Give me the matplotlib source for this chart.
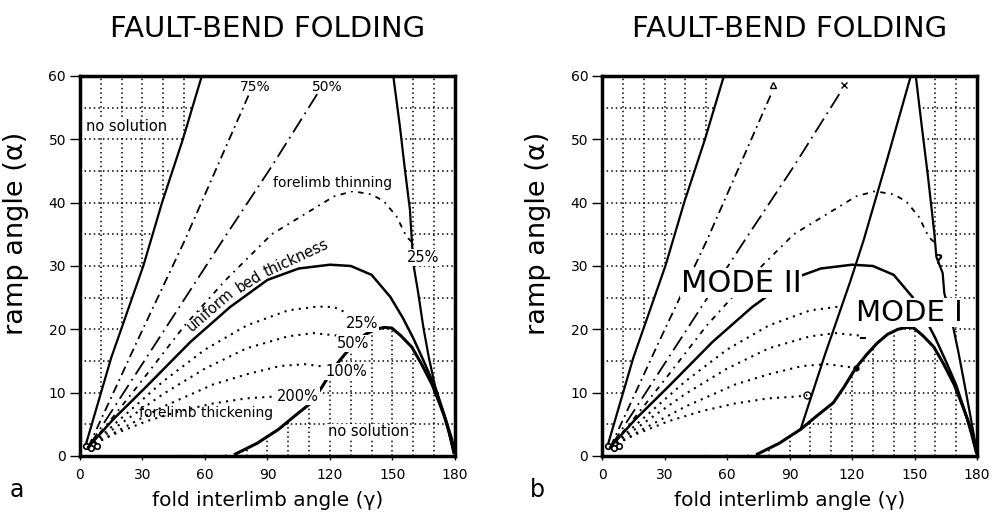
import numpy as np
import matplotlib
matplotlib.use('Agg')
import matplotlib.pyplot as plt
from matplotlib.patches import Polygon

# digitised curves: fold interlimb angle (x) vs ramp angle (y)
# left "no solution" limit
limit_x = [3, 15, 30.4, 39.4, 49.4, 58.5]
limit_y = [2, 15.5, 30, 40, 50, 60]

# forelimb thinning 75% and 50%
thin75_x = [4, 27, 50.4, 81]
thin75_y = [1.4, 17.8, 34.1, 57]
thin50_x = [4, 36, 68.6, 92, 114]
thin50_y = [1.4, 17.6, 34.1, 45.7, 57.2]

# forelimb thinning (peak ~42)
thin25_x = [4, 16, 30, 50, 70, 92, 112, 122, 131, 140, 146, 152, 156.8, 159.3]
thin25_y = [1.4, 6.2, 12, 20.5, 27.8, 35, 39, 41, 41.8, 41.3, 40.2, 37.8, 34.6, 33.8]

# uniform bed thickness
uniform_x = [4, 16, 32, 53, 72, 90, 105, 120, 130, 140, 149, 155, 160, 165, 170, 174, 177, 179.5]
uniform_y = [1.4, 5.8, 11, 18, 23.5, 27.8, 29.6, 30.2, 30, 28.6, 25.1, 21.8, 18.6, 15, 11.2, 7.2, 3.8, 0.6]

# forelimb thickening curves
thick25_x = [4, 20, 40, 60, 80, 100, 114, 122, 128]
thick25_y = [1.4, 6, 11.8, 16.8, 20.6, 23, 23.6, 23.5, 22.6]
thick50_x = [4, 20, 40, 60, 80, 100, 112, 124]
thick50_y = [1.4, 5.2, 9.8, 13.8, 17, 18.9, 19.4, 19]
thick100_x = [4, 20, 40, 64, 80, 96, 108, 121.8]
thick100_y = [1.4, 4.3, 7.8, 11.3, 12.9, 14.2, 14.5, 13.9]
thick200_x = [4, 16, 32, 48, 64, 80, 94, 98.5]
thick200_y = [1.4, 3.4, 5.5, 7.1, 8.3, 9.1, 9.4, 9.6]

# lower limit (mode I)
hump_x = [74.6, 85, 95.3, 103, 111, 116, 121.8, 127, 132, 137, 142, 146, 149.7, 154, 159.3, 164, 169, 172.5, 175.7, 178.3, 180]
hump_y = [0.3, 2, 4.2, 6.3, 8.4, 10.8, 13.9, 16, 17.8, 19.2, 20, 20.3, 20.2, 19, 17.2, 14.5, 11.3, 8.4, 5.6, 2.8, 0.5]

# right steep limits
steep_a_x = [150.4, 153.6, 156, 158.4, 159.2, 160, 162.4, 164.8, 167.5, 170.5, 175, 177.3, 179.3]
steep_a_y = [60, 52, 45.2, 38.9, 34.6, 30.4, 25.7, 20.4, 15.5, 11, 6.5, 3.5, 0.5]
steep_b_x = [150.6, 153.5, 156.5, 159.5, 160.5, 163.5, 164.3, 166, 167.5, 171, 173.9, 177, 180]
steep_b_y = [60, 52, 44, 35.2, 31.4, 28.9, 25.7, 23.5, 22, 16.5, 11.5, 6, 0.5]

# mode I / mode II boundary (panel b)
mid_x = [95.3, 107, 119.4, 125.6, 137, 148.2]
mid_y = [4.2, 16, 27.8, 34.1, 47, 60]

xticks = [0, 30, 60, 90, 120, 150, 180]
yticks = [0, 10, 20, 30, 40, 50, 60]

plt.rcParams['font.family'] = 'DejaVu Sans'

fig = plt.figure(figsize=(9.92, 5.2), dpi=100)
ax_a = fig.add_axes([0.0806, 0.1231, 0.378, 0.7308])
ax_b = fig.add_axes([0.6069, 0.1231, 0.378, 0.7308])


def base_axes(ax, steep_x, steep_y):
    ax.set_xlim(0, 180)
    ax.set_ylim(0, 60)
    # dotted grid, later covered where a solution exists
    ax.vlines(np.arange(10, 180, 10), 0, 60, colors='k', linestyles=(0, (1, 2)), lw=1.1, zorder=0.5)
    ax.hlines(np.arange(5, 60, 5), 0, 180, colors='k', linestyles=(0, (1, 2)), lw=1.1, zorder=0.5)
    pts = [(0, 0)] + list(zip(limit_x, limit_y)) + list(zip(steep_x, steep_y)) \
        + list(zip(hump_x[::-1], hump_y[::-1]))
    ax.add_patch(Polygon(pts, closed=True, facecolor='white', edgecolor='none', zorder=1))

    ax.plot(limit_x, limit_y, color='k', lw=1.6, zorder=3)
    ax.plot(thin75_x, thin75_y, color='k', lw=1.3, ls=(0, (5, 2.5, 1, 2.5)), zorder=3)
    ax.plot(thin50_x, thin50_y, color='k', lw=1.3, ls=(0, (9, 3, 1, 3)), zorder=3)
    ax.plot(thin25_x, thin25_y, color='k', lw=1.3, ls=(0, (3, 3, 1, 3)), zorder=3)
    ax.plot(uniform_x, uniform_y, color='k', lw=1.8, zorder=3)
    ax.plot(hump_x, hump_y, color='k', lw=2.2, zorder=3)
    ax.plot(steep_x, steep_y, color='k', lw=1.6, zorder=3)
    # scribble where the curves meet
    ax.plot([3, 5.5, 8], [1.5, 1.2, 1.6], 'o', mfc='none', mec='k', ms=4, mew=1.2, zorder=3)

    for s in ax.spines.values():
        s.set_linewidth(2.5)
        s.set_zorder(5)
    ax.set_xticks(xticks)
    ax.set_yticks(yticks)
    ax.tick_params(axis='y', direction='out', length=7, width=1, labelsize=10, pad=3)
    ax.tick_params(axis='x', direction='out', length=3, width=1, labelsize=10, pad=6)
    ax.set_xlabel('fold interlimb angle (\u03b3)', fontsize=14.5, va='top')
    ax.set_ylabel('ramp angle (\u03b1)', fontsize=19.5)
    ax.yaxis.set_label_coords(-0.135, 0.585)
    ax.xaxis.set_label_coords(0.5, -0.092)


# ---- panel a ----
base_axes(ax_a, steep_a_x, steep_a_y)
ax_a.plot(thick25_x, thick25_y, color='k', lw=1.5, ls=(0, (1, 2.5)), zorder=3)
ax_a.plot(thick50_x, thick50_y, color='k', lw=1.5, ls=(0, (1, 2.5)), zorder=3)
ax_a.plot(thick100_x, thick100_y, color='k', lw=1.5, ls=(0, (1, 2.5)), zorder=3)
ax_a.plot(thick200_x[:-1], thick200_y[:-1], color='k', lw=1.5, ls=(0, (1, 2.5)), zorder=3)

wb = dict(facecolor='white', edgecolor='none', pad=0.6)
ax_a.text(22.6, 52, 'no solution', fontsize=10.5, ha='center', va='center', zorder=4, bbox=wb)
ax_a.text(84, 58.3, '75%', fontsize=10, ha='center', va='center', zorder=4)
ax_a.text(118.6, 58.3, '50%', fontsize=10, ha='center', va='center', zorder=4)
ax_a.text(121.4, 43.1, 'forelimb thinning', fontsize=10, ha='center', va='center', zorder=4, bbox=wb)
ax_a.text(164.9, 31.3, '25%', fontsize=10.5, ha='center', va='center', zorder=4, bbox=wb)
ax_a.text(64.8, 22.1, 'uniform', fontsize=10.5, ha='center', va='bottom', rotation=41,
          rotation_mode='anchor', zorder=4)
ax_a.text(83, 26.5, 'bed', fontsize=10.5, ha='center', va='bottom', rotation=32,
          rotation_mode='anchor', zorder=4)
ax_a.text(105.6, 30.2, 'thickness', fontsize=10.5, ha='center', va='bottom', rotation=25,
          rotation_mode='anchor', zorder=4)
ax_a.text(135.6, 20.9, '25%', fontsize=10.5, ha='center', va='center', zorder=4, bbox=wb)
ax_a.text(131.3, 17.8, '50%', fontsize=10.5, ha='center', va='center', zorder=4, bbox=wb)
ax_a.text(127.7, 13.3, '100%', fontsize=10.5, ha='center', va='center', zorder=4, bbox=wb)
ax_a.text(104.6, 9.4, '200%', fontsize=10.5, ha='center', va='center', zorder=4, bbox=wb)
ax_a.text(60.7, 6.8, 'forelimb thickening', fontsize=10, ha='center', va='center', zorder=4)
ax_a.text(138.7, 3.8, 'no solution', fontsize=10.5, ha='center', va='center', zorder=4, bbox=wb)

# ---- panel b ----
base_axes(ax_b, steep_b_x, steep_b_y)
ax_b.plot(mid_x, mid_y, color='k', lw=1.6, zorder=3)
ax_b.plot(thick25_x[:7], thick25_y[:7], color='k', lw=1.5, ls=(0, (1, 2.5)), zorder=3)
ax_b.plot(thick50_x, thick50_y, color='k', lw=1.5, ls=(0, (1, 2.5)), zorder=3)
ax_b.plot(thick100_x, thick100_y, color='k', lw=1.5, ls=(0, (1, 2.5)), zorder=3)
ax_b.plot(thick200_x, thick200_y, color='k', lw=1.5, ls=(0, (1, 2.5)), zorder=3)
ax_b.plot([82], [58.6], marker='^', mfc='none', mec='k', ms=4, zorder=4)
ax_b.plot([116], [58.6], marker='x', color='k', ms=4, zorder=4)
ax_b.plot([98.5], [9.6], marker='o', mfc='none', mec='k', ms=5, zorder=4)
ax_b.plot([121.8], [13.9], marker='o', color='k', ms=3.5, zorder=4)
ax_b.plot([125.5], [18.6], marker='_', color='k', ms=4, mew=1.5, zorder=4)
ax_b.text(161.8, 31, '?', fontsize=10, fontweight='bold', ha='center', va='center', zorder=4)
ax_b.text(66.9, 27.3, 'MODE II', fontsize=22, ha='center', va='center', zorder=4,
          bbox=dict(facecolor='white', edgecolor='none', pad=0.5))
ax_b.text(147.5, 22.6, 'MODE I', fontsize=21, ha='center', va='center', zorder=4,
          bbox=dict(facecolor='white', edgecolor='none', pad=0.5))

# titles and panel letters
fig.text(0.2697, 0.9294, 'FAULT-BEND FOLDING', fontsize=21, ha='center', va='baseline')
fig.text(0.7959, 0.9294, 'FAULT-BEND FOLDING', fontsize=21, ha='center', va='baseline')
fig.text(0.010, 0.044, 'a', fontsize=17, ha='left', va='baseline')
fig.text(0.534, 0.044, 'b', fontsize=17, ha='left', va='baseline')

fig.savefig('out.png', dpi=100)
